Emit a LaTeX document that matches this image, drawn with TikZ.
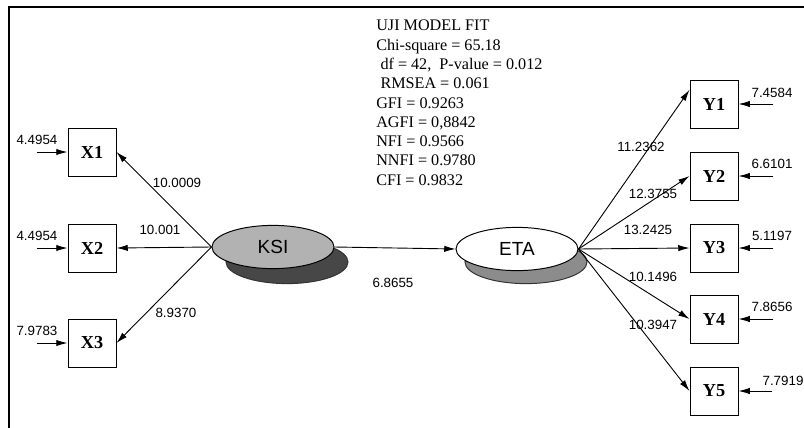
\documentclass[tikz,border=0pt]{standalone}
\usepackage{fontspec}
\setmainfont{Liberation Serif}
\setsansfont{Liberation Sans}
\usepackage{tikz}
\usetikzlibrary{shapes,shapes.geometric,arrows.meta,positioning,calc}
\tikzset{
  % Observed indicator: bold serif label in a square
  obsbox/.style={draw, rectangle, minimum size=1.2cm, inner sep=0pt, fill=white,
                 line width=0.7pt, font=\rmfamily\bfseries\fontsize{13}{15}\selectfont},
  % Latent construct: ellipse with a drop shadow drawn underneath
  latent/.style={draw, ellipse, minimum width=3.05cm, minimum height=1.08cm,
                 line width=0.7pt, font=\sffamily\fontsize{13.5}{15}\selectfont},
  latshadow/.style={latent, draw=black!80},
  % Arrows
  patharr/.style={-{Latex[length=8pt,width=4.5pt]}, line width=0.65pt},
  errarr/.style={patharr},
  % Estimate labels
  numlbl/.style={font=\sffamily\fontsize{9.5}{10}\selectfont, inner sep=1pt},
  % Fit statistics block
  fitblock/.style={align=left, anchor=north west, inner sep=0pt,
                   font=\rmfamily\fontsize{11.5}{13.7}\selectfont}
}
\begin{document}
\begin{tikzpicture}[x=0.025cm, y=-0.025cm]
\useasboundingbox (0,0) rectangle (804,428);

% ============== Frame ==============
\draw[line width=1.4pt] (9,428) -- (9,7) -- (804,7);

% ============== Fit statistics ==============
\node[fitblock] (fit) at (376,20) {UJI MODEL FIT\\
  Chi-square = 65.18\\
  \hspace*{3pt}df = 42,\ \ P-value = 0.012\\
  \hspace*{3pt}RMSEA = 0.061\\
  GFI = 0.9263\\
  AGFI = 0,8842\\
  NFI = 0.9566\\
  NNFI = 0.9780\\
  CFI = 0.9832};

% ============== Latent variables ==============
\node[latshadow, fill=black!72] (ksish) at (287,262) {};
\node[latent, fill=black!30] (ksi) at (273,247) {KSI};
\node[latshadow, fill=black!45] (etash) at (526,262) {};
\node[latent, fill=white] (eta) at (517,249) {ETA};

% ============== Exogenous indicators ==============
\node[obsbox] (x1) at (92,152) {X1};
\node[obsbox] (x2) at (92,248) {X2};
\node[obsbox] (x3) at (92,343) {X3};

% ============== Endogenous indicators ==============
\node[obsbox] (y1) at (714,104) {Y1};
\node[obsbox] (y2) at (714,176) {Y2};
\node[obsbox] (y3) at (714,248) {Y3};
\node[obsbox] (y4) at (714,319) {Y4};
\node[obsbox] (y5) at (714,391) {Y5};

% ============== Loadings ==============
\draw[patharr] (ksi.west) -- (x1.east);
\draw[patharr] (ksi.west) -- (x2.east);
\draw[patharr] (ksi.west) -- (x3.east);
\node[numlbl] (lx1) at (177,183) {10.0009};
\node[numlbl] (lx2) at (160,230) {10.001};
\node[numlbl] (lx3) at (176,313) {8.9370};

\draw[patharr] (ksi.east) -- (eta.west);
\node[numlbl] (lgam) at (393,283) {6.8655};

\draw[patharr] (eta.east) -- (y1.150);
\draw[patharr] (eta.east) -- (y2.west);
\draw[patharr] (eta.east) -- (y3.west);
\draw[patharr] (eta.east) -- (y4.west);
\draw[patharr] (eta.east) -- (y5.west);
\node[numlbl] (ly1) at (641,147) {11.2362};
\node[numlbl] (ly2) at (653,194) {12.3755};
\node[numlbl] (ly3) at (648,230) {13.2425};
\node[numlbl] (ly4) at (653,277) {10.1496};
\node[numlbl] (ly5) at (653,325) {10.3947};

% ============== Measurement errors ==============
\coordinate (ex1) at (37,152);
\coordinate (ex2) at (37,248);
\coordinate (ex3) at (37,343);
\draw[errarr] (ex1) -- (x1.west);
\draw[errarr] (ex2) -- (x2.west);
\draw[errarr] (ex3) -- (x3.west);
\node[numlbl] (dx1) at (37,140) {4.4954};
\node[numlbl] (dx2) at (37,236) {4.4954};
\node[numlbl] (dx3) at (37,331) {7.9783};

\coordinate (ey1) at (773,104);
\coordinate (ey2) at (773,176);
\coordinate (ey3) at (773,248);
\coordinate (ey4) at (773,319);
\coordinate (ey5) at (772,391);
\draw[errarr] (ey1) -- (y1.east);
\draw[errarr] (ey2) -- (y2.east);
\draw[errarr] (ey3) -- (y3.east);
\draw[errarr] (ey4) -- (y4.east);
\draw[errarr] (ey5) -- (y5.east);
\node[numlbl] (dy1) at (772,93) {7.4584};
\node[numlbl] (dy2) at (772,164) {6.6101};
\node[numlbl] (dy3) at (772,236) {5.1197};
\node[numlbl] (dy4) at (772,307) {7.8656};
\node[numlbl] (dy5) at (783,381) {7.7919};

\end{tikzpicture}
\end{document}
